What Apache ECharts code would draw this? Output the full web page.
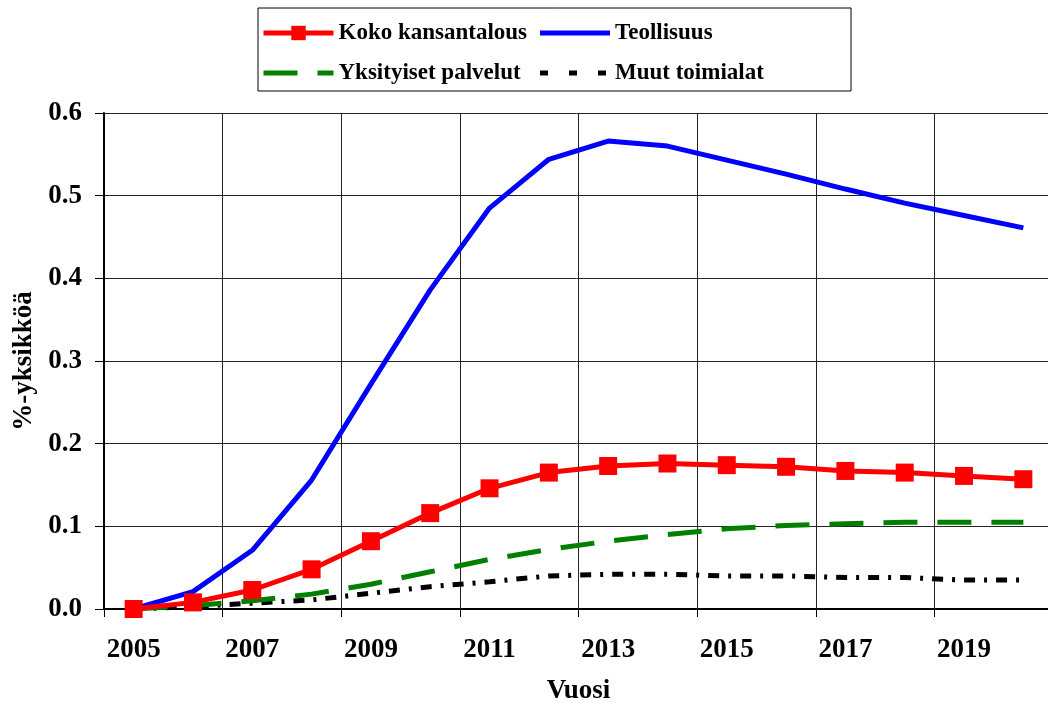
<!DOCTYPE html>
<html>
<head>
<meta charset="utf-8">
<script src="https://cdn.jsdelivr.net/npm/echarts@6/dist/echarts.min.js"></script>
<style>
  html, body { margin: 0; padding: 0; background: #fff; }
  #chart { width: 1048px; height: 703px; }
</style>
</head>
<body>
<div id="chart"></div>
<script>
// vuodet
const years = ['2005', '2006', '2007', '2008', '2009', '2010', '2011', '2012',
  '2013', '2014', '2015', '2016', '2017', '2018', '2019', '2020']

// sarjat (%-yksikköä)
const kokoKansantalous = [0.000, 0.008, 0.023, 0.048, 0.082, 0.116, 0.146, 0.165,
  0.173, 0.176, 0.174, 0.172, 0.167, 0.165, 0.161, 0.157]
const teollisuus = [0.000, 0.021, 0.071, 0.156, 0.272, 0.386, 0.485, 0.544,
  0.566, 0.560, 0.543, 0.526, 0.508, 0.491, 0.476, 0.461]
const yksityisetPalvelut = [0.000, 0.004, 0.010, 0.018, 0.030, 0.045, 0.060, 0.072,
  0.082, 0.090, 0.097, 0.101, 0.103, 0.105, 0.105, 0.105]
const muutToimialat = [0.000, 0.003, 0.007, 0.011, 0.019, 0.027, 0.033, 0.040,
  0.042, 0.042, 0.040, 0.040, 0.038, 0.038, 0.035, 0.035]

const font = 'Liberation Serif, Times New Roman, serif'
const hidden = { opacity: 0 } // ei symbolia legendassa

const chart = echarts.init(document.getElementById('chart'), null, { renderer: 'canvas' })
const option = {
  animation: false,
  textStyle: { fontFamily: font, fontWeight: 'bold', color: '#000' },
  legend: {
    left: 258,
    top: 8,
    width: 560,
    padding: [7, 41, 0, 3],
    itemGap: 4,
    itemWidth: 70,
    itemHeight: 18,
    borderColor: '#000',
    borderWidth: 1,
    lineStyle: { width: 5 },
    textStyle: {
      fontFamily: font,
      fontWeight: 'bold',
      fontSize: 23,
      color: '#000',
      width: 195,
      lineHeight: 36
    },
    data: [
      { name: 'Koko kansantalous' },
      { name: 'Teollisuus', itemStyle: hidden },
      { name: 'Yksityiset palvelut', itemStyle: hidden },
      { name: 'Muut toimialat', itemStyle: hidden, lineStyle: { type: [8, 21] } }
    ]
  },
  grid: {
    left: 104,
    top: 113,
    right: -5,
    bottom: 94,
    outerBoundsMode: 'none'
  },
  xAxis: {
    type: 'category',
    data: years,
    boundaryGap: true,
    name: 'Vuosi',
    nameLocation: 'middle',
    nameGap: 69,
    nameTextStyle: { fontFamily: font, fontWeight: 'bold', fontSize: 27, color: '#000' },
    axisLine: { lineStyle: { color: '#000', width: 2 } },
    axisTick: { show: true, interval: 1, length: 8, lineStyle: { color: '#000' } },
    axisLabel: {
      interval: 1,
      margin: 28,
      fontFamily: font,
      fontWeight: 'bold',
      fontSize: 27,
      color: '#000'
    },
    splitLine: { show: true, interval: 1, lineStyle: { color: '#222', width: 1 } }
  },
  yAxis: {
    type: 'value',
    min: 0,
    max: 0.6,
    interval: 0.1,
    name: '%-yksikköä',
    nameLocation: 'middle',
    nameGap: 65,
    nameTextStyle: { fontFamily: font, fontWeight: 'bold', fontSize: 27, color: '#000' },
    axisLine: { show: true, lineStyle: { color: '#000', width: 2 } },
    axisTick: { show: true, length: 9, lineStyle: { color: '#000' } },
    axisLabel: {
      margin: 22,
      fontFamily: font,
      fontWeight: 'bold',
      fontSize: 27,
      color: '#000',
      formatter: (v) => v.toFixed(1)
    },
    splitLine: { show: true, lineStyle: { color: '#222', width: 1 } }
  },
  series: [
    {
      name: 'Koko kansantalous',
      type: 'line',
      data: kokoKansantalous,
      symbol: 'rect',
      symbolSize: 18,
      z: 5,
      itemStyle: { color: '#ff0000' },
      lineStyle: { color: '#ff0000', width: 5 }
    },
    {
      name: 'Teollisuus',
      type: 'line',
      data: teollisuus,
      symbol: 'none',
      z: 4,
      itemStyle: { color: '#0000ff' },
      lineStyle: { color: '#0000ff', width: 5 }
    },
    {
      name: 'Yksityiset palvelut',
      type: 'line',
      data: yksityisetPalvelut,
      symbol: 'none',
      z: 3,
      itemStyle: { color: '#008000' },
      lineStyle: { color: '#008000', width: 5, type: [34, 20] }
    },
    {
      name: 'Muut toimialat',
      type: 'line',
      data: muutToimialat,
      symbol: 'none',
      z: 2,
      itemStyle: { color: '#000' },
      lineStyle: { color: '#000', width: 5, type: [11, 9, 3, 9] }
    }
  ]
}
chart.setOption(option)
</script>
</body>
</html>
